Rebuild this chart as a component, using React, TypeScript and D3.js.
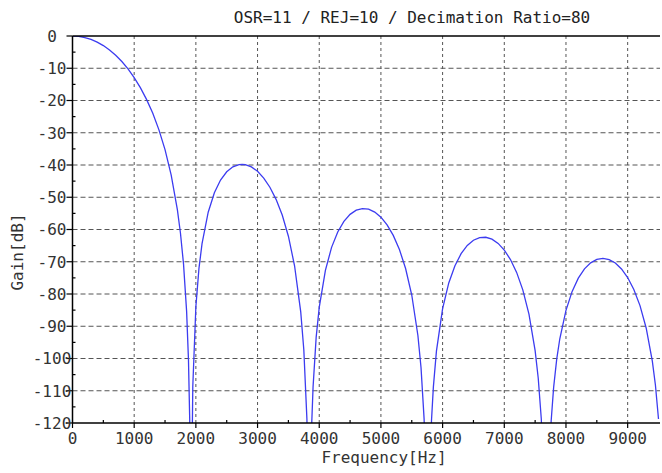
import React from "react";
import * as d3 from "d3";

const title = "OSR=11 / REJ=10 / Decimation Ratio=80";
const xLabel = "Frequency[Hz]";
const yLabel = "Gain[dB]";
const xTicks = [0, 1000, 2000, 3000, 4000, 5000, 6000, 7000, 8000, 9000];
const xMinorTicks = [500, 1500, 2500, 3500, 4500, 5500, 6500, 7500, 8500];
const yTicks = [0, -10, -20, -30, -40, -50, -60, -70, -80, -90, -100, -110, -120];
const yMinorTicks = [-5, -15, -25, -35, -45, -55, -65, -75, -85, -95, -105, -115];

const freq = [
  0, 100, 200, 300, 400, 500, 600, 700, 800, 900, 1000, 1100, 1200, 1300, 1400, 1500, 1600, 1700, 1750, 1800, 1850, 1880, 1900, 1920,
  1950, 2000, 2050, 2100, 2200, 2300, 2400, 2500, 2600, 2700, 2750, 2800, 2900, 3000, 3100, 3200, 3300, 3400, 3500, 3600, 3700, 3750, 3800, 3840,
  3880, 3900, 3950, 4000, 4100, 4200, 4300, 4400, 4500, 4600, 4700, 4800, 4900, 5000, 5100, 5200, 5300, 5400, 5500, 5600, 5650, 5700, 5760,
  5820, 5850, 5900, 6000, 6100, 6200, 6300, 6400, 6500, 6600, 6700, 6800, 6900, 7000, 7100, 7200, 7300, 7400, 7500, 7550, 7600, 7680,
  7760, 7800, 7850, 7900, 8000, 8100, 8200, 8300, 8400, 8500, 8600, 8700, 8800, 8900, 9000, 9100, 9200, 9300, 9400, 9450, 9500,
];
const gain = [
  0, -0.12, -0.47, -1.06, -1.89, -2.97, -4.33, -5.97, -7.92, -10.21, -12.89, -16.01, -19.65, -23.89, -29.03, -35.25, -43.14, -53.83, -61.09, -70.73, -85.38, -100.35, -118.67, -160,
  -108.79, -83.95, -72.07, -64.4, -54.63, -48.62, -44.67, -42.11, -40.57, -39.86, -39.78, -39.88, -40.59, -41.96, -44.04, -46.89, -50.65, -55.53, -62.08, -71.24, -85.55, -97.28, -118.68, -160,
  -119.2, -108.82, -93.45, -84.17, -72.65, -65.54, -60.75, -57.47, -55.3, -54.02, -53.51, -53.71, -54.59, -56.19, -58.56, -61.82, -66.2, -72.09, -80.31, -92.94, -102.78, -118.71, -160,
  -119.25, -108.87, -97.71, -84.55, -76.58, -71.23, -67.5, -64.95, -63.34, -62.51, -62.41, -63.01, -64.31, -66.37, -69.31, -73.3, -78.71, -86.24, -97.57, -106.04, -118.74, -160,
  -119.28, -108.94, -100.2, -93.88, -85.08, -79.2, -75.09, -72.2, -70.35, -69.29, -68.96, -69.33, -70.4, -72.23, -74.9, -78.58, -83.59, -90.54, -100.79, -108.22, -118.78,
];

const W = 662;
const H = 473;
const left = 72.5;
const right = 658.5;
const top = 36;
const bottom = 423;
const font = "'DejaVu Sans Mono', 'Liberation Mono', monospace";

export default function App() {
  const x = d3.scaleLinear().domain([0, 9500]).range([left, right]);
  const y = d3.scaleLinear().domain([-120, 0]).range([bottom, top]);
  const pts: [number, number][] = freq.map((f, i) => [f, gain[i]]);
  const line = d3
    .line<[number, number]>()
    .x((d) => x(d[0]))
    .y((d) => y(d[1]));

  return (
    <svg width={W} height={H} style={{ position: "absolute", left: 0, top: 0, background: "#fff" }}>
      <defs>
        <clipPath id="plotclip">
          <rect x={left} y={top} width={right - left + 2} height={bottom - top} />
        </clipPath>
      </defs>
      {/* grid */}
      {xTicks
        .filter((t) => t !== 0)
        .map((t) => (
          <line key={"gx" + t} x1={x(t)} x2={x(t)} y1={top} y2={bottom} stroke="#555" strokeWidth={1} strokeDasharray="3,3" />
        ))}
      {yTicks
        .filter((t) => t !== 0 && t !== -120)
        .map((t) => (
          <line key={"gy" + t} x1={left} x2={660} y1={y(t)} y2={y(t)} stroke="#555" strokeWidth={1} strokeDasharray="5,3" />
        ))}
      {/* curve */}
      <path d={line(pts) || ""} fill="none" stroke="#3c3cf0" strokeWidth={1.3} clipPath="url(#plotclip)" />
      {/* axes */}
      <line x1={left} x2={660} y1={top} y2={top} stroke="#000" strokeWidth={1.5} />
      <line x1={left} x2={660} y1={bottom} y2={bottom} stroke="#000" strokeWidth={1.5} />
      <line x1={left} x2={left} y1={top} y2={bottom} stroke="#000" strokeWidth={1.5} />
      {xTicks.map((t) => (
        <line key={"tx" + t} x1={x(t)} x2={x(t)} y1={bottom} y2={bottom + 5} stroke="#000" strokeWidth={1.2} />
      ))}
      {xMinorTicks.map((t) => (
        <line key={"mx" + t} x1={x(t)} x2={x(t)} y1={bottom - 3} y2={bottom} stroke="#000" strokeWidth={1.2} />
      ))}
      {yTicks.map((t) => (
        <line key={"ty" + t} x1={left - 6} x2={left} y1={y(t)} y2={y(t)} stroke="#000" strokeWidth={1.2} />
      ))}
      {yMinorTicks.map((t) => (
        <line key={"my" + t} x1={left} x2={left + 3} y1={y(t)} y2={y(t)} stroke="#000" strokeWidth={1.2} />
      ))}
      {/* tick labels */}
      {xTicks.map((t) => (
        <text key={"lx" + t} x={x(t)} y={444} textAnchor="middle" fontFamily={font} fontSize={16} fill="#333">
          {t}
        </text>
      ))}
      {yTicks.map((t) => (
        <text key={"ly" + t} x={52} y={y(t)} dy="0.36em" textAnchor="middle" fontFamily={font} fontSize={16} fill="#333">
          {t}
        </text>
      ))}
      <text x={412} y={23} textAnchor="middle" fontFamily={font} fontSize={16} fill="#222">
        {title}
      </text>
      <text x={384} y={463} textAnchor="middle" fontFamily={font} fontSize={16} fill="#333">
        {xLabel}
      </text>
      <text transform="translate(23,252) rotate(-90)" textAnchor="middle" fontFamily={font} fontSize={16} fill="#333">
        {yLabel}
      </text>
    </svg>
  );
}
